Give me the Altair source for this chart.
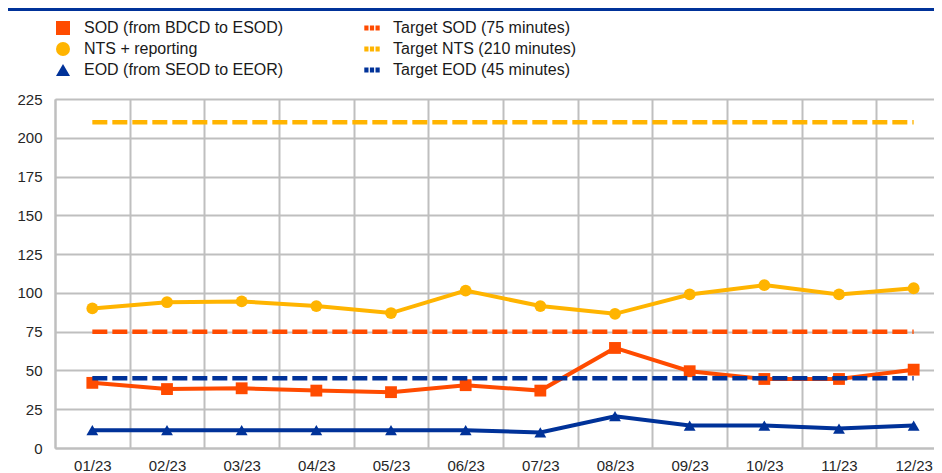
import altair as alt
import pandas as pd

months = ["01/23", "02/23", "03/23", "04/23", "05/23", "06/23",
          "07/23", "08/23", "09/23", "10/23", "11/23", "12/23"]
sod = [42, 38, 38.5, 37, 36, 40.5, 37, 64.5, 49.5, 44.5, 44.5, 50.5]
nts = [90, 94, 94.5, 91.5, 87, 101.5, 91.5, 86.5, 99, 105, 99, 103]
eod = [11.5, 11.5, 11.5, 11.5, 11.5, 11.5, 10, 20.5, 14.5, 14.5, 12.5, 14.5]
target_sod = 75
target_nts = 210
target_eod = 45

names = ["SOD (from BDCD to ESOD)", "NTS + reporting", "EOD (from SEOD to EEOR)"]
tnames = ["Target SOD (75 minutes)", "Target NTS (210 minutes)", "Target EOD (45 minutes)"]
y_ticks = [0, 25, 50, 75, 100, 125, 150, 175, 200, 225]

ORANGE = "#FF4B00"
YELLOW = "#FFB400"
BLUE = "#003299"
DASH = "M-1.1,-0.36H-0.5V0.36H-1.1Z M-0.3,-0.36H0.3V0.36H-0.3Z M0.5,-0.36H1.1V0.36H0.5Z"

legend_order = names + tnames
color_range = [ORANGE, YELLOW, BLUE, ORANGE, YELLOW, BLUE]
shape_range = ["square", "circle", "triangle-up", DASH, DASH, DASH]

rows = []
for series, vals in zip(names, [sod, nts, eod]):
    for m, v in zip(months, vals):
        rows.append({"month": m, "value": v, "series": series})
actual = pd.DataFrame(rows)

trows = []
for series, v in zip(tnames, [target_sod, target_nts, target_eod]):
    for m in months:
        trows.append({"month": m, "value": v, "series": series})
targets = pd.DataFrame(trows)

FONT = "Liberation Sans"

x_enc = alt.X(
    "month:N", sort=months,
    scale=alt.Scale(type="band", paddingInner=0, paddingOuter=0, range=[0, 896]),
    axis=alt.Axis(title=None, tickBand="extent", ticks=False, tickSize=0,
                  labelPadding=10, labelFontSize=15, labelFont=FONT,
                  labelColor="#262626", grid=True, gridColor="#BFBFBF",
                  gridWidth=2, domainColor="#BFBFBF", domainWidth=2,
                  labelAngle=0),
)
y_enc = alt.Y(
    "value:Q",
    scale=alt.Scale(domain=[0, 225], nice=False, zero=True),
    axis=alt.Axis(title=None, values=y_ticks, ticks=False, tickSize=0,
                  labelPadding=13, labelFontSize=15, labelFont=FONT,
                  labelColor="#262626", grid=True, gridColor="#BFBFBF",
                  gridWidth=2, domainColor="#BFBFBF", domainWidth=2),
)
legend_def = dict(
    title=None, orient="none", legendX=0, legendY=-79, columns=2,
    labelFontSize=16, labelFont=FONT, labelColor="#1a1a1a",
    symbolSize=196, labelOffset=13, columnPadding=80, rowPadding=5,
    symbolStrokeWidth=0, labelLimit=400, padding=0, symbolOpacity=1,
)
color_enc = alt.Color(
    "series:N",
    scale=alt.Scale(domain=legend_order, range=color_range),
    legend=alt.Legend(**legend_def),
)
shape_enc = alt.Shape(
    "series:N",
    scale=alt.Scale(domain=legend_order, range=shape_range),
    legend=alt.Legend(**legend_def),
)

lines = alt.Chart(actual).mark_line(strokeWidth=4).encode(
    x=x_enc, y=y_enc, color=color_enc, detail="series:N"
)
points = alt.Chart(actual).mark_point(filled=True, opacity=1, size=140).encode(
    x=x_enc, y=y_enc, color=color_enc, shape=shape_enc
)
tlines = alt.Chart(targets).mark_line(strokeWidth=4.5, strokeDash=[15, 5]).encode(
    x=x_enc, y=y_enc, color=color_enc, detail="series:N"
)
topline = alt.Chart(pd.DataFrame({"a": [0]})).mark_rule(
    color=BLUE, strokeWidth=3
).encode(x=alt.value(-47), x2=alt.value(879), y=alt.value(-89.5))

chart = alt.layer(lines, points, tlines, topline).properties(
    width=879, height=349,
    autosize=alt.AutoSizeParams(type="none"),
    padding={"left": 47, "top": 91, "right": 0, "bottom": 25},
).configure_view(stroke=None).configure(background="white")

chart.save("out.html", embed_options={"renderer": "svg", "actions": False})
